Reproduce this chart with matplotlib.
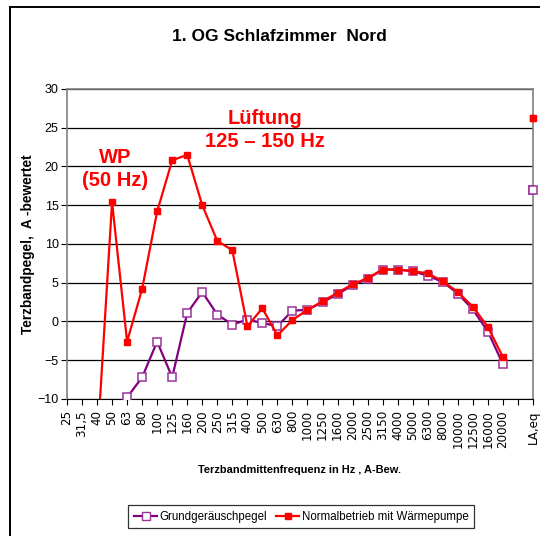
import numpy as np
import matplotlib.pyplot as plt
from matplotlib.lines import Line2D

plt.rcParams['font.family'] = ['Liberation Sans', 'DejaVu Sans']

# Terzbänder + Summenpegel
freqs = ["25", "31,5", "40", "50", "63", "80", "100", "125", "160", "200",
         "250", "315", "400", "500", "630", "800", "1000", "1250", "1600", "2000",
         "2500", "3150", "4000", "5000", "6300", "8000", "10000", "12500", "16000", "20000",
         "", "LA,eq"]

nan = np.nan
grund = [nan, nan, nan, nan, -9.8, -7.2, -2.6, -7.2, 1.1, 3.8,
         0.9, -0.4, 0.25, -0.2, -0.6, 1.4, 1.5, 2.5, 3.5, 4.7,
         5.5, 6.7, 6.7, 6.5, 5.9, 5.1, 3.6, 1.55, -1.3, -5.5,
         nan, 17.0]
normal = [nan, nan, -16.4, 15.4, -2.6, 4.2, 14.2, 20.8, 21.5, 15.0,
          10.4, 9.2, -0.6, 1.7, -1.8, 0.2, 1.5, 2.6, 3.7, 4.8,
          5.6, 6.7, 6.7, 6.5, 6.2, 5.2, 3.8, 1.9, -0.7, -4.6,
          nan, 26.2]

x = np.arange(len(freqs))

fig = plt.figure(figsize=(5.40, 5.36), dpi=100)
ax = fig.add_axes([0.124, 0.2556, 0.863, 0.5784])

ax.set_xlim(0, len(freqs) - 1)
ax.set_ylim(-10, 30)
ax.set_yticks(np.arange(-10, 31, 5))
ax.yaxis.grid(True, color='black', lw=0.9)
ax.set_axisbelow(True)

lila = '#800080'
rot = '#ff0000'

ax.plot(x, grund, color=lila, lw=1.6, marker='s', ms=5.6,
        mfc='white', mec='#993399', mew=1.1, zorder=3)
ax.plot(x, normal, color=rot, lw=1.6, marker='s', ms=4.5,
        mfc=rot, mec=rot, zorder=4)
# Summenpegel am rechten Rand nicht abschneiden
ax.plot(x[-1], grund[-1], ls='none', marker='s', ms=5.6, mfc='white',
        mec='#993399', mew=1.1, clip_on=False, zorder=5)
ax.plot(x[-1], normal[-1], ls='none', marker='s', ms=4.5, mfc=rot,
        mec=rot, clip_on=False, zorder=6)

ax.set_xticks(x)
ax.set_xticklabels(freqs, rotation=90, fontsize=8.6, va='top', family='DejaVu Sans')
ax.tick_params(axis='x', direction='out', length=4, width=0.8, pad=4)
ax.tick_params(axis='y', direction='out', length=4, width=0.8, labelsize=9, pad=2)

for s in ['top', 'right', 'left']:
    ax.spines[s].set_color('#808080')
    ax.spines[s].set_linewidth(1.2)
ax.spines['bottom'].set_color('black')

ax.set_ylabel('Terzbandpegel,  A -bewertet', fontsize=9.8, fontweight='bold', labelpad=2)
ax.set_xlabel('Terzbandmittenfrequenz in Hz , A-Bew.', fontsize=7.9, fontweight='bold', labelpad=12)

fig.text(0.518, 0.931, '1. OG Schlafzimmer  Nord', fontsize=12.5, fontweight='bold',
         ha='center', va='center')

ax.text(3.2, 19.7, 'WP\n(50 Hz)', color=rot, fontsize=14.5, fontweight='bold',
        ha='center', va='center', linespacing=1.3)
ax.text(13.2, 24.7, 'Lüftung\n125 – 150 Hz', color=rot, fontsize=14.5, fontweight='bold',
        ha='center', va='center', linespacing=1.3)

handles = [
    Line2D([], [], color=lila, lw=1.6, marker='s', ms=5.5, mfc='white', mec='#993399'),
    Line2D([], [], color=rot, lw=1.6, marker='s', ms=4.5, mfc=rot, mec=rot),
]
leg = fig.legend(handles, ['Grundgeräuschpegel', 'Normalbetrieb mit Wärmepumpe'],
                 loc='center', bbox_to_anchor=(0.558, 0.036), ncol=2, fontsize=8.3,
                 frameon=True, fancybox=False, handlelength=2.0, handletextpad=0.2,
                 columnspacing=0.8, borderpad=0.5)
leg.get_frame().set_edgecolor('black')
leg.get_frame().set_linewidth(0.9)

# Rahmen des Diagrammbereichs
fig.add_artist(Line2D([10 / 540, 10 / 540], [0, 1 - 7 / 536], color='black', lw=1.4,
                      transform=fig.transFigure))
fig.add_artist(Line2D([10 / 540, 1], [1 - 7 / 536, 1 - 7 / 536], color='black', lw=1.4,
                      transform=fig.transFigure))

fig.savefig('out.png', dpi=100)
